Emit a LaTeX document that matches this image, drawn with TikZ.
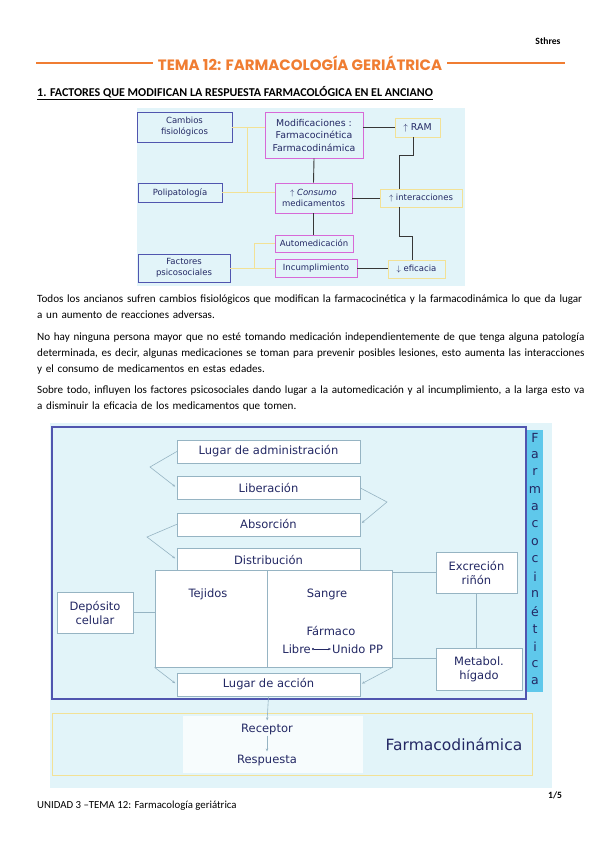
\documentclass[tikz,border=0pt]{standalone}
\usepackage{fontspec}
\setmainfont{Carlito}
\newfontfamily\diagfont{DejaVu Sans}
\newfontfamily\titlefont{Poppins}
\usepackage{tikz}
\usetikzlibrary{positioning, arrows.meta, calc, backgrounds}
\definecolor{naranja}{RGB}{240,125,50}
\definecolor{fondo}{RGB}{226,244,249}
\definecolor{tinta}{RGB}{35,40,100}
\definecolor{azulbox}{RGB}{80,85,175}
\definecolor{rosabox}{RGB}{215,105,215}
\definecolor{amarbox}{RGB}{242,225,150}
\definecolor{gristrazo}{RGB}{150,180,195}
\definecolor{cian}{RGB}{95,200,235}
\definecolor{oscuro}{RGB}{55,55,55}
\newcommand{\renglon}[1]{\makebox[526pt][s]{#1}}

\begin{document}
\begin{tikzpicture}[
  x=1pt, y=-1pt,
  cuerpo/.style={anchor=north west, inner sep=0pt, text width=530pt,
                 align=left, font=\fontsize{11.1}{16}\selectfont},
  cajaA/.style={draw=azulbox, line width=0.9pt, align=center, text=tinta,
                inner sep=1pt, font=\diagfont\fontsize{8.5}{11}\selectfont},
  cajaR/.style={cajaA, draw=rosabox},
  cajaY/.style={cajaA, draw=amarbox},
  lineaY/.style={amarbox, line width=0.9pt},
  lineaN/.style={oscuro, line width=0.9pt},
  caja/.style={draw=gristrazo, fill=white, align=center, text=tinta,
               minimum width=183pt, minimum height=23pt, inner sep=1pt,
               font=\diagfont\fontsize{11.5}{14}\selectfont},
  etiq/.style={text=tinta, inner sep=1pt, font=\diagfont\fontsize{11.5}{14}\selectfont},
  traza/.style={gristrazo, line width=0.6pt},
  flecha/.style={traza, -{Stealth[length=3pt, width=2.5pt]}, shorten >=2pt},
  >=Stealth
]
\useasboundingbox (0,0) rectangle (599,848);
\fill[white] (0,0) rectangle (599,848);

% Header
\node[anchor=east, font=\bfseries\fontsize{9.6}{11}\selectfont] (autor) at (564,41) {Sthres};
\node[font=\titlefont\bfseries\fontsize{15}{18}\selectfont, text=naranja, inner sep=5pt]
  (titulo) at (300,63) {TEMA 12: FARMACOLOGÍA GERIÁTRICA};
\draw[naranja, line width=2.6pt] (36,63) -- (titulo.west);
\draw[naranja, line width=2.6pt] (titulo.east) -- (565,63);
\node[anchor=west, inner sep=0pt, font=\bfseries\fontsize{12}{13}\selectfont] (seccion) at (37,93)
  {\underline{1. FACTORES QUE MODIFICAN LA RESPUESTA FARMACOLÓGICA EN EL ANCIANO}};

% Factors diagram
\fill[fondo] (137,108) rectangle (465,286);
\node[cajaA, minimum width=95pt, minimum height=30pt] (cambios) at (184.5,127) {Cambios\\fisiológicos};
\node[cajaR, minimum width=98pt, minimum height=46pt, font=\diagfont\fontsize{9.4}{12.5}\selectfont]
  (modif) at (314,135) {Modificaciones :\\Farmacocinética\\Farmacodinámica};
\node[cajaY, minimum width=45pt, minimum height=19pt, font=\diagfont\fontsize{9.4}{11}\selectfont]
  (ram) at (417.5,127.5) {$\uparrow$ RAM};
\node[cajaA, minimum width=84pt, minimum height=19pt] (polipat) at (180,192.5) {Polipatología};
\node[cajaR, minimum width=77pt, minimum height=30pt] (consumo) at (313.5,198) {$\uparrow$ \textit{Consumo}\\medicamentos};
\node[cajaY, minimum width=82pt, minimum height=18pt] (interac) at (421,198) {$\uparrow$ interacciones};
\node[cajaR, minimum width=78pt, minimum height=17pt] (automed) at (314,243.5) {Automedicación};
\node[cajaR, minimum width=82pt, minimum height=18pt] (incumpl) at (316,268) {Incumplimiento};
\node[cajaA, minimum width=92pt, minimum height=28pt] (factores) at (184,268) {Factores\\psicosociales};
\node[cajaY, minimum width=57pt, minimum height=18pt] (eficacia) at (416.5,269) {$\downarrow$ eficacia};

\coordinate (bifur) at (247,0);
\draw[lineaY] (cambios.east) -- (cambios.east -| modif.west);
\draw[lineaY] (bifur |- cambios.east) -- (bifur |- polipat.east);
\draw[lineaY] (polipat.east) -- (polipat.east -| consumo.west);
\draw[lineaY] (automed.west) -- ++(-20,0) |- (incumpl.west);
\draw[lineaY] (factores.east) -- (incumpl.west);

\draw[lineaN] (modif.south) -- (consumo.north);
\draw[lineaN] (ram.west -| modif.east) -- (ram.west);
\draw[lineaN] ($(ram.south)+(-4,0)$) -- ++(0,18) -| ($(interac.north)+(-22,0)$);
\draw[lineaN] (consumo.east) -- (consumo.east -| interac.west);
\draw[lineaN] ($(interac.south)+(-22,0)$) |- ($(eficacia.north)+(-4,-23)$) -- ($(eficacia.north)+(-4,0)$);
\draw[lineaN] (consumo.south) -- (consumo.south |- automed.north);
\draw[lineaN] (incumpl.east) -- (incumpl.east -| eficacia.west);

% Text
\node[cuerpo] (parr1) at (37,295) {\renglon{Todos los ancianos sufren cambios fisiológicos que modifican la farmacocinética y la farmacodinámica lo que da lugar}\\
  a un aumento de reacciones adversas.};
\node[cuerpo] (parr2) at (37,333) {\renglon{No hay ninguna persona mayor que no esté tomando medicación independientemente de que tenga alguna patología}\\
  \renglon{determinada, es decir, algunas medicaciones se toman para prevenir posibles lesiones, esto aumenta las interacciones}\\
  y el consumo de medicamentos en estas edades.};
\node[cuerpo] (parr3) at (37,386) {\renglon{Sobre todo, influyen los factores psicosociales dando lugar a la automedicación y al incumplimiento, a la larga esto va}\\
  a disminuir la eficacia de los medicamentos que tomen.};

% Farmacocinetica diagram
\fill[fondo] (50,423) rectangle (552,788);
\draw[azulbox, line width=1.3pt] (52,427) rectangle (526,699);
\fill[cian] (527,430) rectangle (543,692);
\foreach \letra [count=\i] in {F,a,r,m,a,c,o,c,i,n,é,t,i,c,a}
  \node[text=tinta, inner sep=0pt, font=\diagfont\fontsize{12.5}{13}\selectfont]
    (fc\i) at (535,{437.5+(\i-1)*17.4}) {\letra};

\node[caja] (lugadm) at (268.5,451.5) {Lugar de administración};
\node[caja, below=13pt of lugadm] (liber) {Liberación};
\node[caja, below=13pt of liber] (absor) {Absorción};
\node[caja, below=12pt of absor] (distrib) {Distribución};
\node[draw=gristrazo, fill=white, minimum width=112pt, minimum height=97pt, inner sep=0pt,
      anchor=north east] (tej) at (267,570) {};
\node[draw=gristrazo, fill=white, minimum width=125pt, minimum height=97pt, inner sep=0pt,
      anchor=north west] (sangre) at (267,570) {};
\node[caja] (accion) at (268.5,684.5) {Lugar de acción};
\node[etiq] (tejtxt) at (208,594) {Tejidos};
\node[etiq] (sangtxt) at (327,594) {Sangre};
\node[etiq] (farmaco) at (331,631) {Fármaco};
\node[etiq, anchor=east] (libre) at (312,649) {Libre};
\node[etiq, anchor=west] (unido) at (331,649) {Unido PP};
\draw[tinta, line width=0.6pt, {Circle[length=2pt]}-{Stealth[length=3pt]}] (libre) -- (unido);

\node[caja, minimum width=76pt, minimum height=41pt] (deposito) at (95,612.5) {Depósito\\celular};
\node[caja, minimum width=81pt, minimum height=41pt] (excrec) at (476.5,572.5) {Excreción\\riñón};
\node[caja, minimum width=86pt, minimum height=42pt] (metabol) at (479,669) {Metabol.\\hígado};

\draw[flecha] (lugadm.west) -- (150,467) -- (liber.west);
\draw[flecha] (liber.east) -- (387,502) -- (absor.east);
\draw[flecha] (absor.west) -- (147,537) -- (distrib.west);
\draw[flecha] (tej.south west) -- (accion.west);
\draw[flecha] (sangre.south east) -- (accion.east);
\draw[traza] (deposito.east) -- (deposito.east -| tej.west);
\draw[traza] (excrec.west) -- (excrec.west -| sangre.east);
\draw[traza] (metabol.west |- 0,658) -- (sangre.east |- 0,658);
\draw[traza] (excrec.south) -- (excrec.south |- metabol.north);

% Farmacodinamica
\draw[amarbox, line width=1pt] (52,713) rectangle (532,775);
\fill[white, opacity=0.75] (183,716) rectangle (363,773);
\node[etiq] (receptor) at (267,729) {Receptor};
\node[etiq] (respuesta) at (267,760) {Respuesta};
\node[etiq, font=\diagfont\fontsize{15.5}{17}\selectfont] (fdin) at (454,744) {Farmacodinámica};
\draw[flecha] (accion.south) -- (receptor.north);
\draw[flecha] (receptor.south) -- (respuesta.north);

% Footer
\node[anchor=west, inner sep=0pt, font=\bfseries\fontsize{9.6}{11}\selectfont] (pagina) at (548,795) {1/5};
\node[anchor=west, inner sep=0pt, font=\fontsize{10.8}{12}\selectfont] (pie) at (37,806)
  {UNIDAD 3 –TEMA 12: Farmacología geriátrica};
\end{tikzpicture}
\end{document}
